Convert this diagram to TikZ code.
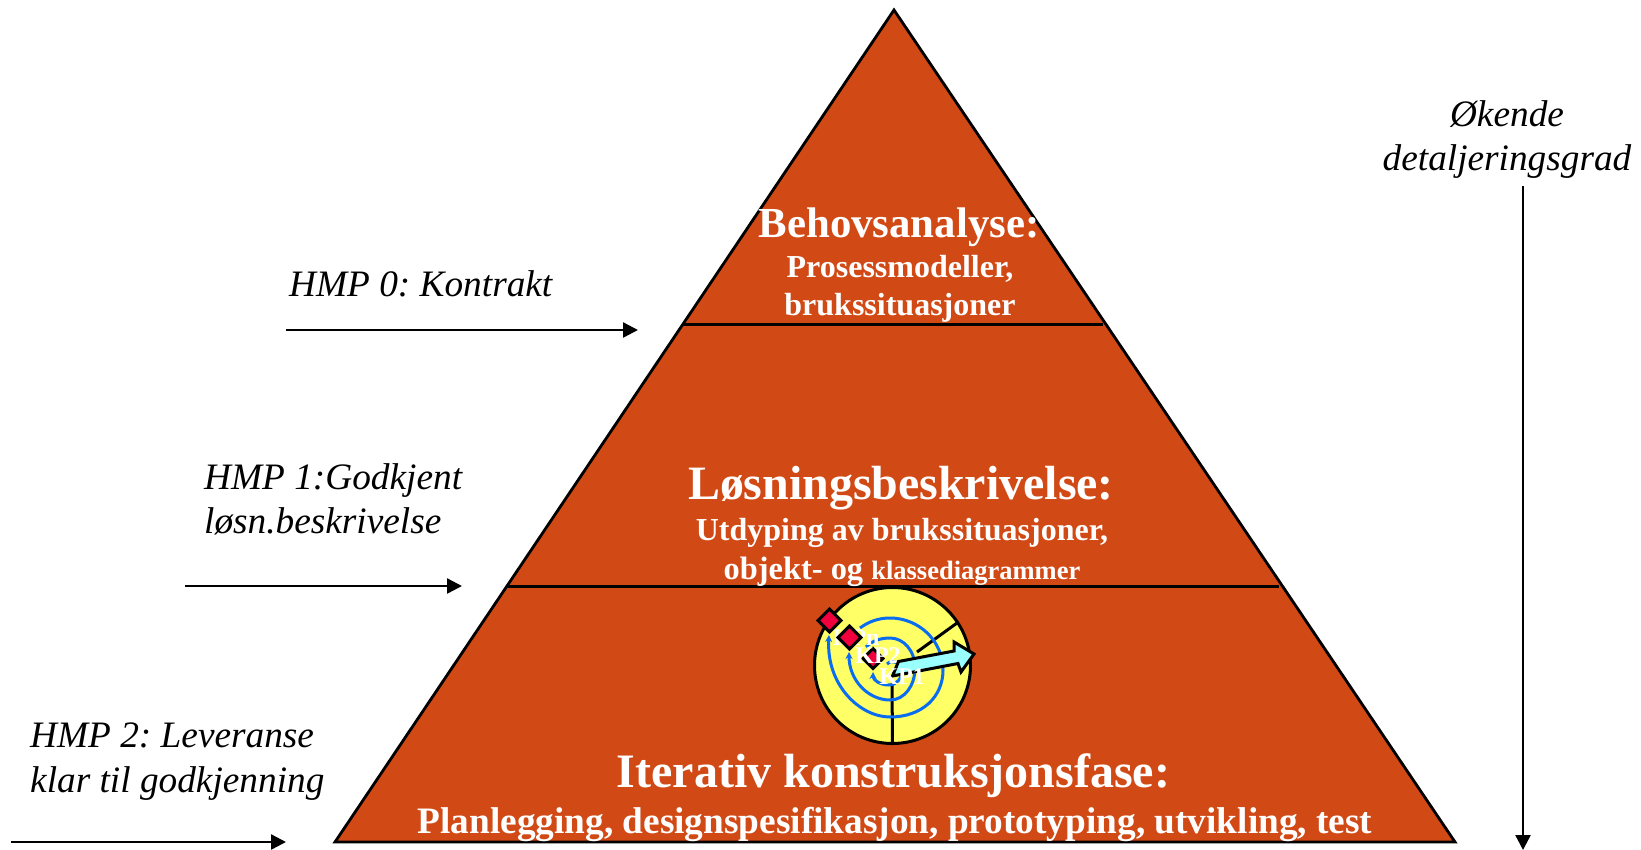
\documentclass[tikz,border=0pt]{standalone}
\usepackage{fontspec}
\setmainfont{Liberation Serif}
\usetikzlibrary{arrows.meta}
\definecolor{pyr}{HTML}{D14A16}
\definecolor{yel}{HTML}{FFFF66}
\definecolor{cya}{HTML}{99FFFF}
\definecolor{rd}{HTML}{F0003C}
\definecolor{blu}{HTML}{0A6CF0}
\newcommand{\fs}[1]{\fontsize{#1}{#1}\selectfont}
\frenchspacing
\tikzset{
  ital/.style={anchor=base west,inner sep=0pt,align=left,font=\fs{37.3}\itshape,text=black},
  head/.style={anchor=base,inner sep=0pt,text=white,font=\fs{42.8}\bfseries},
  sub/.style={anchor=base,inner sep=0pt,text=white,font=\fs{32}\bfseries},
  kp/.style={anchor=center,inner sep=0pt,text=white,font=\fs{24}\bfseries},
  hmp/.style={line width=2.4pt,-{Triangle[length=15pt,width=15pt]}},
  div/.style={line width=2.8pt},
  spiral/.style={draw=blu,line width=3pt,{Stealth[length=7pt,width=7pt]}-},
  dia/.style={draw=black,line width=3pt,fill=rd},
}
\begin{document}
\begin{tikzpicture}[x=1pt,y=-1pt]
\useasboundingbox (0,0) rectangle (1641,850);
% pyramid
\coordinate (apex) at (894,10);
\coordinate (bl) at (335,842);
\coordinate (br) at (1455,842);
\draw[fill=pyr,line width=2.8pt,line join=miter] (apex) -- (bl) -- (br) -- cycle;
\coordinate (a1) at (683,324.5); \coordinate (b1) at (1103,324.5);
\coordinate (a2) at (508,586.5); \coordinate (b2) at (1279,586.5);
\draw[div] (a1) -- (b1);
\draw[div] (a2) -- (b2);
% pyramid texts
\node[head] (t1) at (899,238) {Behovsanalyse:};
\node[sub] (t1a) at (900,278) {Prosessmodeller,};
\node[sub] (t1b) at (900,316) {brukssituasjoner};
\node[head,font=\fs{47.9}\bfseries] (t2) at (901,499) {Løsningsbeskrivelse:};
\node[sub] (t2a) at (902,540) {Utdyping av brukssituasjoner,};
\node[sub,font=\fs{32.4}\bfseries] (t2b) at (902,579) {objekt- og {\fs{26.5}klassediagrammer}};
\node[head,font=\fs{48}\bfseries] (t3) at (893.5,787) {Iterativ konstruksjonsfase:};
\node[sub,font=\fs{37.3}\bfseries] (t3a) at (895,833) {Planlegging, designspesifikasjon, prototyping, utvikling, test};
% target
\coordinate (c) at (892.5,665.5);
\node[circle,draw=black,line width=3pt,fill=yel,minimum size=156pt,inner sep=0pt] (disc) at (c) {};
\coordinate (r1a) at (892,683); \coordinate (r2a) at (917,652); \coordinate (r2b) at (957,623);
\draw[line width=3pt] (r1a) -- (disc.south);
\draw[line width=3pt] (r2a) -- (r2b);
\draw[spiral] (829,635) .. controls (826,685) and (860,717) .. (890,717)
   .. controls (922,717) and (943,697) .. (943,670)
   .. controls (943,640) and (918,618) .. (890,618)
   .. controls (878,618) and (868,622) .. (860,628);
\draw[spiral] (849,652) .. controls (849,680) and (868,700) .. (890,700)
   .. controls (905,700) and (915,685) .. (915,668)
   .. controls (915,650) and (903,638) .. (890,638)
   .. controls (880,638) and (872,641) .. (866,647);
\draw[spiral] (873,672) .. controls (873,680) and (880,685) .. (889,685)
   .. controls (897,685) and (902,678) .. (902,670)
   .. controls (902,664) and (893,658) .. (887,664);
\node[kp] (kpn) at (856,638) {KPn};
\draw[dia] (829.5,609) -- (841,620.5) -- (829.5,632) -- (818,620.5) -- cycle;
\draw[dia] (849.5,626) -- (861,637.5) -- (849.5,649) -- (838,637.5) -- cycle;
\draw[dia] (873,648.5) -- (883,658.5) -- (873,668.5) -- (863,658.5) -- cycle;
\node[kp] (kp2) at (878,656) {KP2};
\draw[draw=black,line width=3pt,fill=cya] (898.5,661.5) -- (954,651) -- (954,642) -- (974,654) -- (961,672) -- (958,663.5) -- (892.5,676) -- cycle;
\node[kp] (kp1) at (902,677) {KP1};
% side labels and arrows
\node[ital] (h0) at (289,297) {HMP 0: Kontrakt};
\coordinate (h0s) at (286,330); \coordinate (h0e) at (638,330);
\draw[hmp] (h0s) -- (h0e);
\node[ital] (h1a) at (204,489) {HMP 1:Godkjent};
\node[ital] (h1b) at (204,533) {løsn.beskrivelse};
\coordinate (h1s) at (185,586); \coordinate (h1e) at (462,586);
\draw[hmp] (h1s) -- (h1e);
\node[ital] (h2a) at (30,747) {HMP 2: Leveranse};
\node[ital] (h2b) at (30,792) {klar til godkjenning};
\coordinate (h2s) at (11,842); \coordinate (h2e) at (286,842);
\draw[hmp] (h2s) -- (h2e);
\node[ital,anchor=base] (ok1) at (1507,127) {Økende};
\node[ital,anchor=base] (ok2) at (1507,171) {detaljeringsgrad};
\coordinate (v1) at (1523,186); \coordinate (v2) at (1523,850);
\draw[hmp] (v1) -- (v2);
\end{tikzpicture}
\end{document}
